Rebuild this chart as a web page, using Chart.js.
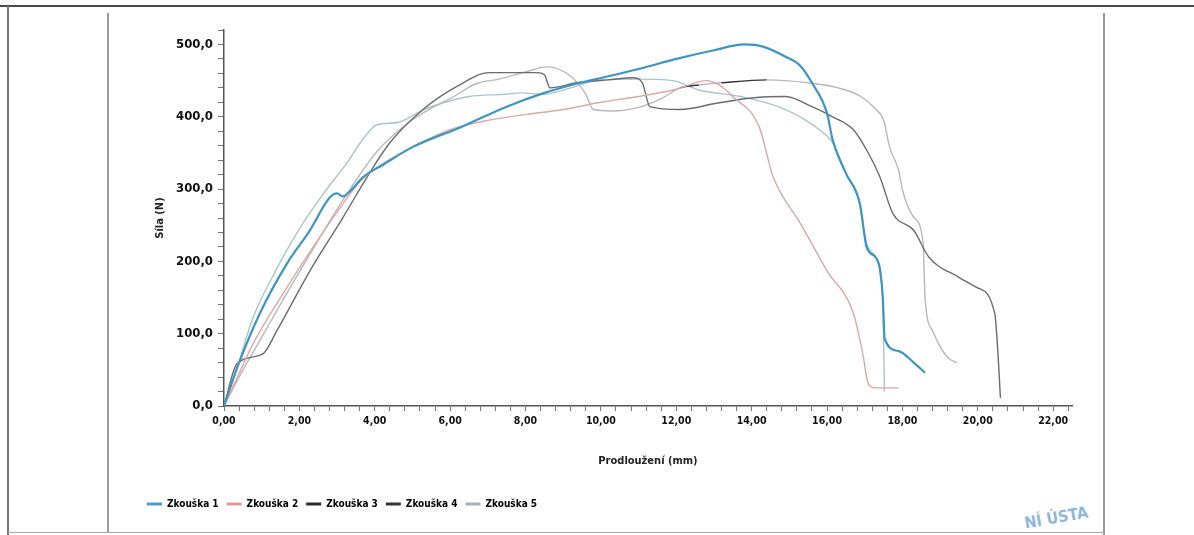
<!DOCTYPE html>
<html>
<head>
<meta charset="utf-8">
<script src="https://cdn.jsdelivr.net/npm/chart.js@4.4.1/dist/chart.umd.min.js"></script>
<style>
  html,body{margin:0;padding:0;background:#fff;}
  body{width:1194px;height:535px;position:relative;overflow:hidden;}
  .ln{position:absolute;}
  #c{position:absolute;left:0;top:0;}
  #stamp{position:absolute;left:1024px;top:508px;font:bold 16px 'Liberation Sans Narrow','DejaVu Sans Condensed',sans-serif;color:#8fb7da;transform:rotate(-10deg);letter-spacing:0px;}
</style>
</head>
<body>
<div class="ln" style="left:0;top:5px;width:1194px;height:2px;background:#4a4a4a;"></div>
<div class="ln" style="left:7px;top:6px;width:2px;height:529px;background:#777;"></div>
<div class="ln" style="left:107px;top:13px;width:2px;height:520px;background:#999;"></div>
<div class="ln" style="left:1103px;top:13px;width:2px;height:522px;background:#999;"></div>
<div class="ln" style="left:8px;top:532px;width:1096px;height:1px;background:#aaa;"></div>
<div id="stamp">NÍ ÚSTA</div>
<canvas id="c" width="1194" height="535"></canvas>
<script>
const seriesNames = ['Zkouška 1','Zkouška 2','Zkouška 3','Zkouška 4','Zkouška 5'];

const zk1X = [0,0.35,0.95,1.67,2.28,2.8,3.0,3.15,3.4,3.7,4.2,5.0,6.3,7.5,8.5,9.3,10.2,11.0,12.0,13.0,13.8,14.3,14.9,15.3,15.6,16.0,16.15,16.5,16.87,17.05,17.3,17.4,17.48,17.53,17.9,18.3,18.6];
const zk1Y = [0,53,128,197,243,288,294,290,300,317,333,358,386,414,433,445,456,466,480,492,500,497,483,470,447,405,368,322,280,220,205,190,150,93,76,60,46];

const zk2X = [0,0.4,0.77,1.5,2.3,3.16,3.6,4.0,5.0,6.0,7.0,8.0,9.0,10.0,11.0,12.0,12.8,13.1,13.5,14.2,14.57,15.3,16.0,16.7,16.95,17.1,17.3,17.9];
const zk2Y = [0,45,86,150,215,280,310,328,358,382,395,403,410,420,428,438,450,445,428,386,317,252,187,128,72,30,25,25];

const zk3X = [0,0.34,1.03,1.4,2.28,3.16,3.8,4.4,5.28,6.18,7.05,8.3,8.5,8.65,9.36,10.2,10.85,11.1,11.3,12.1,13.1,14.0,14.9,15.6,16.15,16.7,17.05,17.4,17.75,18.3,18.7,19.5,19.97,20.45,20.55,20.6];
const zk3Y = [0,58,72,104,187,261,317,364,410,442,461,461,458,440,447,451,454,447,414,410,419,426,428,414,400,382,354,317,266,243,206,178,164,128,60,11];

const zk4X = [0,0.4,1.0,1.6,2.28,3.16,4.06,4.9,5.5,6.0,6.7,7.3,8.0,8.57,9.2,9.6,9.8,10.3,11.0,11.6,12.1,12.6,13.2,14.4,15.5,16.3,16.9,17.3,17.5,17.66,17.9,18.0,18.3,18.55,18.6,18.8,19.2,19.45];
const zk4Y = [0,40,95,150,210,285,352,392,412,425,446,452,462,469,456,431,410,408,413,425,440,444,447,451,447,440,428,410,396,358,326,299,261,225,150,104,67,60];

const zk5X = [0,0.3,0.77,1.3,2.0,2.7,3.26,3.7,4.06,4.6,5.3,5.8,6.5,7.4,7.9,8.46,9.2,10.0,11.0,11.9,12.6,13.7,14.9,15.8,16.15,16.5,16.87,17.05,17.3,17.45,17.5,17.52];
const zk5Y = [0,45,122,180,245,298,336,370,389,392,410,419,428,431,433,431,440,451,452,450,437,428,410,382,364,322,280,225,205,170,100,20];

const lineColors = ['#3f95c2','#dca7a7','#6b6b6b','#b8b8b8','#aac4cb'];
const legendColors = ['#4a9cc8','#e09a9a','#2a2a2a','#333333','#9fb2bd'];

const xs = [zk1X,zk2X,zk3X,zk4X,zk5X];
const ys = [zk1Y,zk2Y,zk3Y,zk4Y,zk5Y];

const FONT = "'Liberation Sans Narrow','DejaVu Sans Condensed','Roboto Condensed',sans-serif";

const datasets = seriesNames.map((name,i)=>({
  label: name,
  data: xs[i].map((x,j)=>({x:x,y:ys[i][j]})),
  borderColor: lineColors[i],
  backgroundColor: lineColors[i],
  borderWidth: i===0 ? 2.2 : 1.4,
  pointRadius: 0,
  showLine: true,
  fill: false,
  cubicInterpolationMode: 'monotone',
  segment: i===3 ? {
    borderColor: ctx => {
      const x0 = ctx.p0.parsed.x;
      return ((x0>=12.0 && x0<12.6) || (x0>=13.2 && x0<14.4)) ? '#333' : undefined;
    }
  } : undefined
}));

new Chart(document.getElementById('c'), {
  type: 'scatter',
  data: { datasets },
  options: {
    responsive: false,
    animation: false,
    devicePixelRatio: 1,
    layout: { padding: { left: 139, right: 122, top: 30, bottom: 16 } },
    plugins: {
      tooltip: { enabled: false },
      legend: {
        position: 'bottom',
        align: 'start',
        labels: {
          boxWidth: 15,
          boxHeight: 3,
          padding: 8,
          color: '#111',
          font: { family: FONT, size: 10, weight: 'bold' },
          generateLabels: chart => chart.data.datasets.map((ds,i)=>({
            text: ds.label,
            fillStyle: legendColors[i],
            strokeStyle: legendColors[i],
            lineWidth: 0,
            hidden: false,
            datasetIndex: i
          }))
        }
      }
    },
    scales: {
      x: {
        type: 'linear',
        min: 0,
        max: 22.5,
        afterBuildTicks: s => { const t=[]; for(let i=0;i<=56;i++) t.push({value: Math.round(i*0.4*10)/10}); s.ticks = t; },
        afterFit: s => { s.height = 85; },
        ticks: {
          autoSkip: false,
          maxRotation: 0,
          padding: 4,
          color: '#111',
          font: { family: FONT, size: 10.5, weight: 'bold' },
          callback: v => (Math.abs(v/2 - Math.round(v/2)) < 1e-6) ? v.toFixed(2).replace('.',',') : ''
        },
        grid: { drawOnChartArea: false, drawTicks: true, tickLength: 5, color: '#777' },
        border: { display: true, color: '#555', width: 1.5 },
        title: {
          display: true,
          text: 'Prodloužení (mm)',
          color: '#222',
          font: { family: FONT, size: 11, weight: 'bold' },
          padding: { top: 0, bottom: 23 }
        }
      },
      y: {
        type: 'linear',
        min: 0,
        max: 520,
        afterBuildTicks: s => { const t=[]; for(let v=0; v<=520; v+=20) t.push({value:v}); s.ticks = t; },
        afterFit: s => { s.width = 85; },
        ticks: {
          autoSkip: false,
          padding: 5,
          color: '#111',
          font: { family: FONT, size: 13, weight: 'bold' },
          callback: v => (v % 100 === 0) ? v.toFixed(1).replace('.',',') : ''
        },
        grid: { drawOnChartArea: false, drawTicks: true, tickLength: 6, color: '#777' },
        border: { display: true, color: '#555', width: 1.5 },
        title: {
          display: true,
          text: 'Síla (N)',
          color: '#222',
          font: { family: FONT, size: 11, weight: 'bold' },
          padding: { top: 15, bottom: 0 }
        }
      }
    }
  }
});
</script>
</body>
</html>
